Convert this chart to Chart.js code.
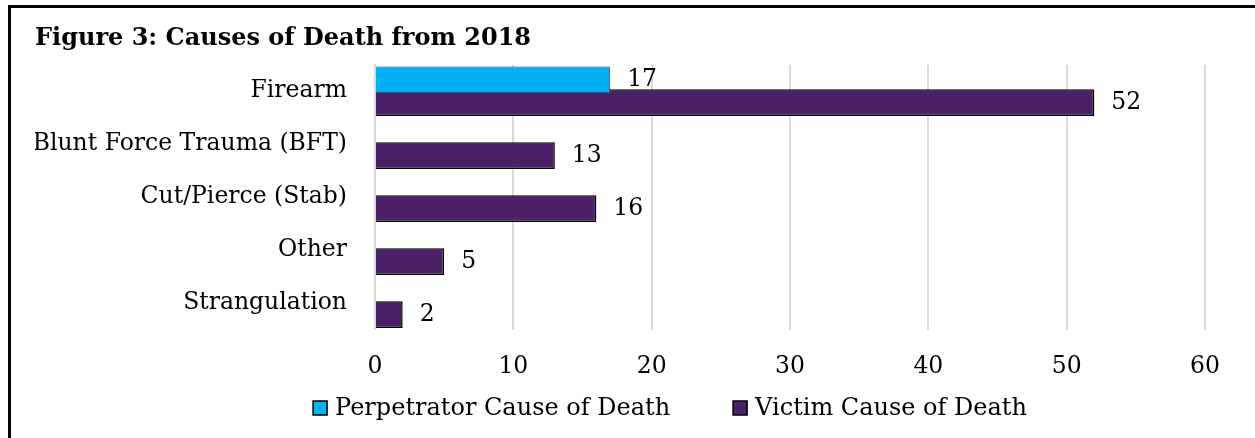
<!DOCTYPE html>
<html>
<head>
<meta charset="utf-8">
<script src="https://cdn.jsdelivr.net/npm/chart.js@4"></script>
<style>
  html, body { margin: 0; padding: 0; background: #fff; }
  #wrap { position: relative; width: 1255px; height: 438px; }
  #frame { position: absolute; left: 8px; top: 5px; right: 0; bottom: 0;
           border-left: 3px solid #000; border-top: 3px solid #000; pointer-events: none; }
</style>
</head>
<body>
<div id="wrap">
  <canvas id="stats" width="1255" height="438" style="width:1255px;height:438px"></canvas>
  <div id="frame"></div>
</div>
<script>
// values
var causes = ['Firearm', 'Blunt Force Trauma (BFT)', 'Cut/Pierce (Stab)', 'Other', 'Strangulation'];
var perpetratorDeaths = [17, null, null, null, null];
var victimDeaths = [52, 13, 16, 5, 2];
var seriesNames = ['Perpetrator Cause of Death', 'Victim Cause of Death'];
var axisMin = 0;
var axisMax = 60;
var axisStep = 10;

var FACE = '"DejaVu Serif", "Liberation Serif", serif';
var TXT = 23.5;

// numbers at the end of each bar
var barLabels = {
    id: 'barLabels',
    afterDatasetsDraw: function (chart) {
        var ctx = chart.ctx;
        ctx.save();
        ctx.font = TXT + 'px ' + FACE;
        ctx.fillStyle = '#000';
        ctx.textAlign = 'left';
        ctx.textBaseline = 'middle';
        chart.data.datasets.forEach(function (ds, i) {
            chart.getDatasetMeta(i).data.forEach(function (bar, j) {
                if (ds.data[j] == null) return;
                ctx.fillText(String(ds.data[j]), bar.x + 17, bar.y);
            });
        });
        ctx.restore();
    }
};

// legend row under the axis
var keyRow = {
    id: 'keyRow',
    afterDraw: function (chart) {
        var ctx = chart.ctx;
        var box = 14, textGap = 8, itemGap = 63, centre = 670, y = 408;
        ctx.save();
        ctx.font = '24px ' + FACE;
        ctx.textBaseline = 'middle';
        ctx.textAlign = 'left';
        var sets = chart.data.datasets;
        var widths = sets.map(function (ds) { return box + textGap + ctx.measureText(ds.label).width; });
        var total = widths.reduce(function (a, b) { return a + b; }, 0) + itemGap * (sets.length - 1);
        var x = centre - total / 2;
        sets.forEach(function (ds, i) {
            ctx.fillStyle = ds.backgroundColor;
            ctx.fillRect(x, y - box / 2, box, box);
            ctx.lineWidth = 1.5;
            ctx.strokeStyle = '#000';
            ctx.strokeRect(x, y - box / 2, box, box);
            ctx.fillStyle = '#000';
            ctx.fillText(ds.label, x + box + textGap, y + 1);
            x += widths[i] + itemGap;
        });
        ctx.restore();
    }
};

var canvas = document.getElementById('stats');
new Chart(canvas.getContext('2d'), {
    type: 'bar',
    data: {
        labels: causes,
        datasets: [{
            label: seriesNames[0],
            data: perpetratorDeaths,
            backgroundColor: '#00b0f0',
            borderColor: '#1f4e79',
            borderWidth: 1,
            categoryPercentage: 0.855,
            barPercentage: 1.18
        }, {
            label: seriesNames[1],
            data: victimDeaths,
            backgroundColor: '#4b2066',
            borderColor: '#000',
            borderWidth: 1.5,
            categoryPercentage: 0.855,
            barPercentage: 1.18
        }]
    },
    options: {
        indexAxis: 'y',
        responsive: false,
        animation: false,
        layout: { padding: { left: 35, right: 50, top: 0, bottom: 34 } },
        plugins: {
            legend: { display: false },
            tooltip: { enabled: false },
            title: {
                display: true,
                text: 'Figure 3: Causes of Death from 2018',
                align: 'start',
                color: '#000',
                font: { family: FACE, size: 24, weight: 'bold' },
                padding: { top: 24, bottom: 12 }
            }
        },
        scales: {
            x: {
                min: axisMin,
                max: axisMax,
                ticks: { stepSize: axisStep, padding: 23, color: '#000', font: { family: FACE, size: TXT } },
                grid: { color: '#d9d9d9', lineWidth: 2, drawTicks: false },
                border: { display: false }
            },
            y: {
                afterFit: function (scale) { scale.width = 340; },
                ticks: { padding: 28, color: '#000', font: { family: FACE, size: TXT } },
                grid: { display: false, drawTicks: false },
                border: { color: '#d9d9d9', width: 2 }
            }
        }
    },
    plugins: [barLabels, keyRow]
});
</script>
</body>
</html>
